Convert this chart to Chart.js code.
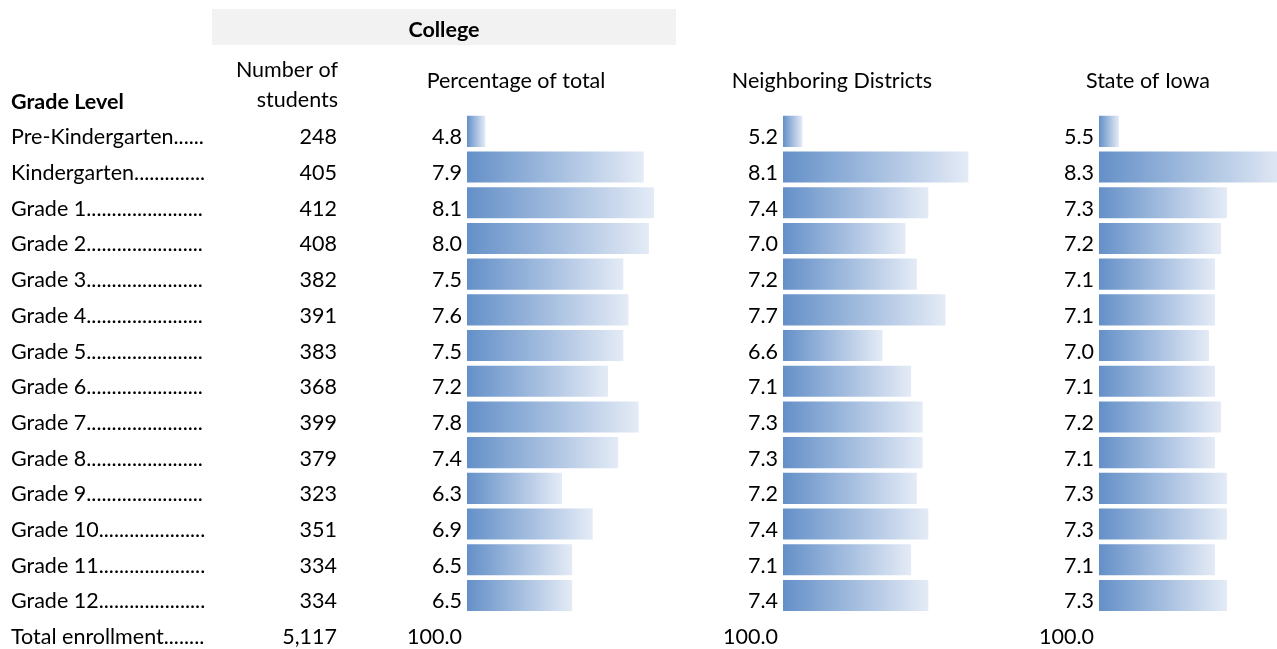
<!DOCTYPE html>
<html>
<head>
<meta charset="utf-8">
<script src="https://cdn.jsdelivr.net/npm/chart.js@4.4.1/dist/chart.umd.min.js"></script>
<style>
  html, body { margin: 0; padding: 0; background: #fff; }
  #wrap { position: relative; width: 1277px; height: 649px; overflow: hidden; }
  #wrap canvas { position: absolute; left: 0; top: 0; }
</style>
</head>
<body>
<div id="wrap">
  <canvas id="c1" width="1277" height="649"></canvas>
  <canvas id="c2" width="1277" height="649"></canvas>
  <canvas id="c3" width="1277" height="649"></canvas>
</div>
<script>
// ---------- data ----------
const gradeLevels = ['Pre-Kindergarten', 'Kindergarten', 'Grade 1', 'Grade 2', 'Grade 3', 'Grade 4', 'Grade 5',
  'Grade 6', 'Grade 7', 'Grade 8', 'Grade 9', 'Grade 10', 'Grade 11', 'Grade 12'];
const numberOfStudents = [248, 405, 412, 408, 382, 391, 383, 368, 399, 379, 323, 351, 334, 334];
const percentageOfTotal = [4.8, 7.9, 8.1, 8.0, 7.5, 7.6, 7.5, 7.2, 7.8, 7.4, 6.3, 6.9, 6.5, 6.5];
const neighboringDistricts = [5.2, 8.1, 7.4, 7.0, 7.2, 7.7, 6.6, 7.1, 7.3, 7.3, 7.2, 7.4, 7.1, 7.4];
const stateOfIowa = [5.5, 8.3, 7.3, 7.2, 7.1, 7.1, 7.0, 7.1, 7.2, 7.1, 7.3, 7.3, 7.1, 7.3];
const totalLabel = 'Total enrollment';
const totalStudents = '5,117';
const totalPercent = '100.0';
const columnHeaders = ['Percentage of total', 'Neighboring Districts', 'State of Iowa'];
const groupHeader = 'College';

// ---------- style ----------
const FONT = 'Lato, Calibri, Carlito, sans-serif';
const FS = 21.5;
const TEXT = '#000000';
const BAR_LEFT = '#6490c8';
const BAR_RIGHT = '#e4ebf6';
const rowLabels = gradeLevels.concat([totalLabel]);

function gradientFill(ctx) {
  const chart = ctx.chart;
  const x = chart.scales && chart.scales.x;
  if (ctx.type !== 'data' || !x || ctx.raw == null) return BAR_LEFT;
  const p0 = x.getPixelForValue(x.min);
  const p1 = x.getPixelForValue(ctx.raw);
  if (!isFinite(p0) || !isFinite(p1)) return BAR_LEFT;
  const g = chart.ctx.createLinearGradient(p0, 0, Math.max(p1, p0 + 1), 0);
  g.addColorStop(0, BAR_LEFT);
  g.addColorStop(1, BAR_RIGHT);
  return g;
}

function panelChart(canvasId, values, xMin, xMax, padLeft, padRight, extraPlugins) {
  return new Chart(document.getElementById(canvasId), {
    type: 'bar',
    data: {
      labels: rowLabels,
      datasets: [{
        data: values.concat([null]),
        backgroundColor: gradientFill,
        borderWidth: 0,
        categoryPercentage: 1,
        barPercentage: 0.87
      }]
    },
    options: {
      indexAxis: 'y',
      responsive: false,
      animation: false,
      devicePixelRatio: 1,
      layout: { padding: { left: padLeft, right: padRight, top: 113.5, bottom: 0 } },
      plugins: { legend: { display: false }, tooltip: { enabled: false } },
      scales: {
        x: { type: 'linear', min: xMin, max: xMax, display: false },
        y: { type: 'category', display: false }
      }
    },
    plugins: extraPlugins || []
  });
}

const textPlugin = {
  id: 'tableText',
  afterDraw(chart) {
    const c = chart.ctx;
    const y = chart.scales.y;
    c.save();
    // group header band
    c.fillStyle = '#f2f2f2';
    c.fillRect(212, 9, 464, 36);
    c.fillStyle = TEXT;
    c.textBaseline = 'alphabetic';
    c.font = 'bold ' + FS + 'px ' + FONT;
    c.textAlign = 'center';
    c.fillText(groupHeader, 444, 37);
    c.textAlign = 'left';
    c.fillText('Grade Level', 11, 109);
    c.font = FS + 'px ' + FONT;
    c.textAlign = 'right';
    c.fillText('Number of', 338, 77);
    c.fillText('students', 338, 107);
    c.textAlign = 'center';
    const headX = [516, 832, 1148];
    columnHeaders.forEach((h, i) => c.fillText(h, headX[i], 88));

    const valX = [462, 778, 1094];
    const series = [percentageOfTotal, neighboringDistricts, stateOfIowa];
    rowLabels.forEach((lab, i) => {
      const yb = y.getPixelForValue(i) + 13;
      c.textAlign = 'left';
      let s = lab;
      while (c.measureText(s + '.').width <= 196) s += '.';
      c.fillText(s, 11, yb);
      c.textAlign = 'right';
      if (i < gradeLevels.length) {
        c.fillText(String(numberOfStudents[i]), 337, yb);
        series.forEach((arr, k) => c.fillText(arr[i].toFixed(1), valX[k], yb));
      } else {
        c.fillText(totalStudents, 337, yb);
        valX.forEach(vx => c.fillText(totalPercent, vx, yb));
      }
    });
    c.restore();
  }
};

function build() {
  panelChart('c1', percentageOfTotal, 4.44, 8.5, 467, 602.6, [textPlugin]);
  panelChart('c2', neighboringDistricts, 4.86, 8.5, 783, 285.8);
  panelChart('c3', stateOfIowa, 5.167, 8.134, 1099, 0);
}

if (document.fonts && document.fonts.load) {
  Promise.all([document.fonts.load(FS + 'px Lato'), document.fonts.load('bold ' + FS + 'px Lato')])
    .then(build, build);
} else {
  build();
}
</script>
</body>
</html>
